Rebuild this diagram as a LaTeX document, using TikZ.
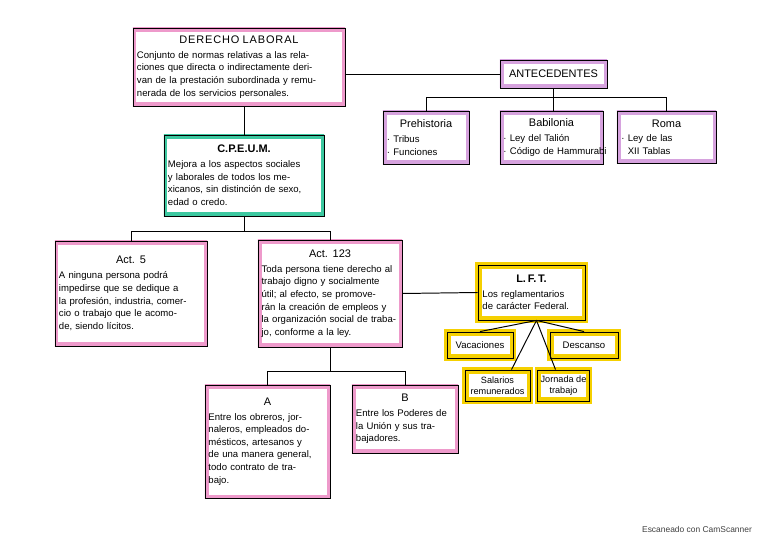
\documentclass[tikz,border=0pt]{standalone}
\usepackage{fontspec}
\setmainfont{Liberation Sans}
\usepackage{tikz}
\usetikzlibrary{positioning,calc}
\definecolor{rosa}{HTML}{EE9ACB}
\definecolor{lila}{HTML}{D6A2DE}
\definecolor{verde}{HTML}{3CC8A0}
\definecolor{amarillo}{HTML}{F5D000}
\newcommand\titulo[1]{{\centering\fontsize{7.8}{9.5}\selectfont #1\par}\vspace{1.5pt}}

\begin{document}
\begin{tikzpicture}[x=0.025cm,y=-0.025cm,
  caja/.style={draw=black,line width=0.6pt,fill=white,align=left,inner sep=2pt,
    font=\fontsize{6.8}{9}\selectfont,
    path picture={\draw[#1,line width=5pt] (path picture bounding box.south west) rectangle (path picture bounding box.north east);}},
  caja/.default=rosa,
  amar/.style={caja=amarillo,preaction={draw=amarillo,line width=4.5pt}},
  linea/.style={line width=0.7pt}]
\useasboundingbox (0,0) rectangle (768,543);

\node (der) [caja,minimum width=5.3cm,minimum height=1.95cm,text width=5.1cm] at (239,67)
  {\titulo{\addfontfeature{LetterSpace=8}DERECHO LABORAL}
   Conjunto de normas relativas a las rela-\\
   ciones que directa o indirectamente deri-\\
   van de la prestación subordinada y remu-\\
   nerada de los servicios personales.};
\node (ant) [caja=lila,minimum width=2.675cm,minimum height=0.7cm,align=center] at (553.5,74)
  {\fontsize{7.8}{9}\selectfont ANTECEDENTES};
\node (pre) [caja=lila,minimum width=2.15cm,minimum height=1.325cm,text width=1.95cm] at (426,137.5)
  {\titulo{Prehistoria}
   · Tribus\\
   · Funciones};
\node (bab) [caja=lila,minimum width=2.575cm,minimum height=1.325cm,text width=2.4cm] at (551.5,137.5)
  {\titulo{Babilonia}
   · Ley del Talión\\
   \makebox[\linewidth][l]{· Código de Hammurabi}};
\node (rom) [caja=lila,minimum width=2.475cm,minimum height=1.3cm,text width=2.25cm] at (666.5,137)
  {\titulo{Roma}
   · Ley de las\\
   \hphantom{· }XII Tablas};

\node (cpe) [caja=verde,minimum width=4.0cm,minimum height=2.025cm,text width=3.8cm] at (244,175.5)
  {\titulo{\bfseries C.P.E.U.M.}
   Mejora a los aspectos sociales\\
   y laborales de todos los me-\\
   xicanos, sin distinción de sexo,\\
   edad o credo.};

\node (art5) [caja,minimum width=3.8cm,minimum height=2.625cm,text width=3.6cm] at (131,293.5)
  {\titulo{Act. 5}
   A ninguna persona podrá\\
   impedirse que se dedique a\\
   la profesión, industria, comer-\\
   cio o trabajo que le acomo-\\
   de, siendo lícitos.};
\node (a123) [caja,minimum width=3.6cm,minimum height=2.675cm,text width=3.42cm] at (330,293.5)
  {\titulo{Act. 123}
   Toda persona tiene derecho al\\
   trabajo digno y socialmente\\
   útil; al efecto, se promove-\\
   rán la creación de empleos y\\
   la organización social de traba-\\
   jo, conforme a la ley.};

\node (lft) [amar,minimum width=2.675cm,minimum height=1.375cm,text width=2.45cm] at (531.5,292.5)
  {\titulo{\bfseries L.\,F.\,T.}
   Los reglamentarios\\
   de carácter Federal.};
\node (vac) [amar,minimum width=1.65cm,minimum height=0.65cm,align=center] at (480,345) {Vacaciones};
\node (des) [amar,minimum width=1.7cm,minimum height=0.65cm,align=center] at (584,345) {Descanso};
\node (sal) [amar,minimum width=1.625cm,minimum height=0.775cm,align=center,font=\fontsize{6.5}{8}\selectfont] at (497.5,385.5) {Salarios\\remunerados};
\node (jor) [amar,minimum width=1.175cm,minimum height=0.775cm,align=center,font=\fontsize{6.5}{8}\selectfont] at (563.5,385.5) {Jornada de\\trabajo};

\node (A) [caja,minimum width=3.125cm,minimum height=2.825cm,text width=2.95cm] at (267.5,441.5)
  {\titulo{A}
   Entre los obreros, jor-\\
   naleros, empleados do-\\
   mésticos, artesanos y\\
   de una manera general,\\
   todo contrato de tra-\\
   bajo.};
\node (B) [caja,minimum width=2.65cm,minimum height=1.7cm,text width=2.45cm] at (405,419)
  {\titulo{B}
   Entre los Poderes de\\
   la Unión y sus tra-\\
   bajadores.};

\node (pie) at (697,529) {\fontsize{6}{7}\selectfont\color{black!75}Escaneado con CamScanner};

\draw[linea] (der.east |- ant.west) -- (ant.west);
\draw[linea] (ant.south) -- (ant.south |- bab.north);
\draw[linea] (pre.north) -- ++(0,-13) -| (rom.north);
\draw[linea] (cpe.north |- der.south) -- (cpe.north);
\draw[linea] (cpe.south) -- ++(0,16);
\draw[linea] (art5.north) -- ++(0,-9) -| (a123.north);
\draw[linea] (a123.east) -- (lft.west);
\coordinate (abanico) at ($(lft.south)+(5,0)$);
\draw[linea] (abanico) -- (vac.north);
\draw[linea] (abanico) -- (des.north);
\draw[linea] (abanico) -- ($(sal.north)+(14,0)$);
\draw[linea] (abanico) -- ($(jor.north)+(-8,0)$);
\draw[linea] (a123.south) -- ++(0,25);
\draw[linea] (A.north) -- ++(0,-13) -| (B.north);
\end{tikzpicture}
\end{document}
